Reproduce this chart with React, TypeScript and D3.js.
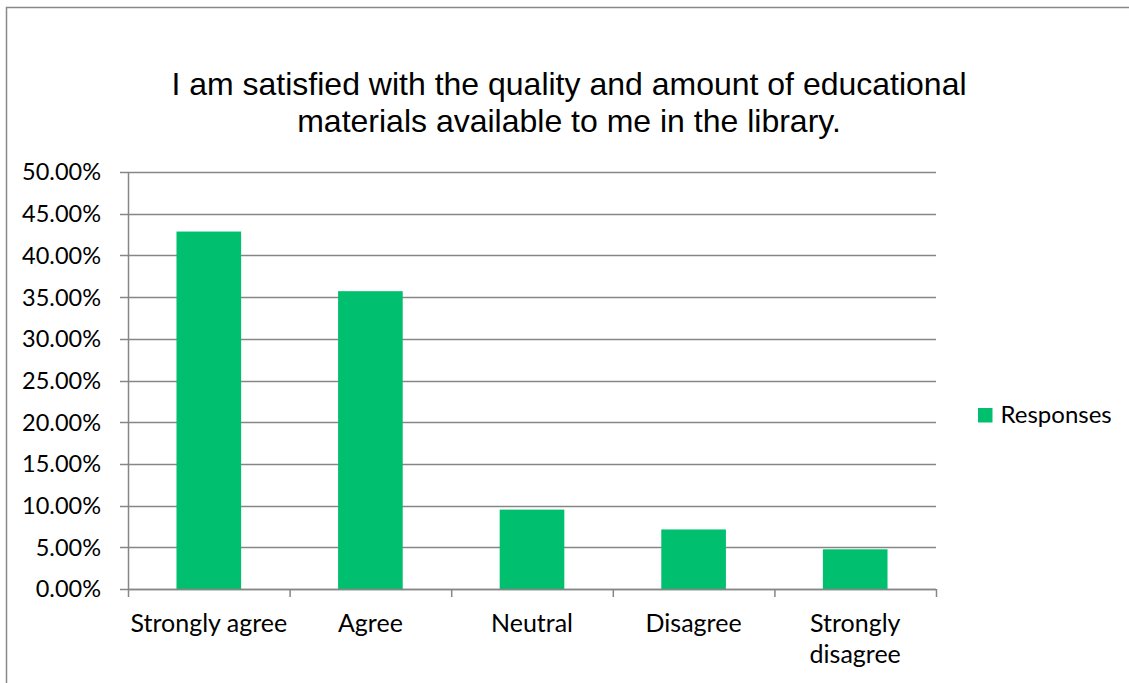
import React from "react";
import * as d3 from "d3";

const categories: string[][] = [
  ["Strongly agree"],
  ["Agree"],
  ["Neutral"],
  ["Disagree"],
  ["Strongly", "disagree"],
];
const values: number[] = [0.4286, 0.3571, 0.0952, 0.0714, 0.0476];
const yTicks: number[] = [0, 0.05, 0.1, 0.15, 0.2, 0.25, 0.3, 0.35, 0.4, 0.45, 0.5];
const titleLines: string[] = [
  "I am satisfied with the quality and amount of educational",
  "materials available to me in the library.",
];
const seriesName = "Responses";

export default function App() {
  const W = 1129;
  const H = 683;
  const left = 128;
  const right = 936;
  const top = 172;
  const bottom = 589;
  const keys = categories.map((c) => c.join(" "));
  const x = d3.scaleBand<string>().domain(keys).range([left, right]).paddingInner(0.6).paddingOuter(0.3);
  const y = d3.scaleLinear().domain([0, 0.5]).range([bottom, top]);
  const step = x.step();
  const grid = "#868686";
  const green = "#00C06F";
  const labelFont = "Lato, 'Open Sans', sans-serif";
  const fmt = (v: number) => (v * 100).toFixed(2) + "%";

  return (
    <svg width={W} height={H} style={{ position: "absolute", left: 0, top: 0, background: "#fff" }}>
      <rect x={6.5} y={7.5} width={1200} height={800} fill="#fff" stroke="#898989" strokeWidth={1.5} />
      {titleLines.map((t, i) => (
        <text key={i} x={569} y={95 + i * 36.5} textAnchor="middle" fontFamily="'Liberation Sans', Arial, sans-serif" fontSize={32} fill="#000">
          {t}
        </text>
      ))}
      {yTicks.map((t) => (
        <g key={t}>
          <line x1={120} x2={right} y1={Math.round(y(t)) + 0.5} y2={Math.round(y(t)) + 0.5} stroke={grid} strokeWidth={1.3} />
          <text x={101} y={y(t)} dy="0.36em" textAnchor="end" fontFamily={labelFont} fontSize={23.5} fill="#000">
            {fmt(t)}
          </text>
        </g>
      ))}
      <line x1={left + 0.5} x2={left + 0.5} y1={top} y2={bottom} stroke={grid} strokeWidth={1.5} />
      {keys.map((k, i) => (
        <rect key={k} x={x(k)} y={y(values[i])} width={x.bandwidth()} height={bottom - y(values[i])} fill={green} />
      ))}
      <line x1={left} x2={right} y1={bottom + 0.5} y2={bottom + 0.5} stroke={grid} strokeWidth={1.5} />
      {d3.range(keys.length + 1).map((i) => (
        <line key={i} x1={left + i * step + 0.5} x2={left + i * step + 0.5} y1={bottom} y2={bottom + 8} stroke={grid} strokeWidth={1.5} />
      ))}
      {categories.map((lines, i) => (
        <text key={i} textAnchor="middle" fontFamily={labelFont} fontSize={25} fill="#000">
          {lines.map((l, j) => (
            <tspan key={j} x={(x(keys[i]) as number) + x.bandwidth() / 2} y={632 + j * 31}>
              {l}
            </tspan>
          ))}
        </text>
      ))}
      <rect x={978} y={408} width={14.5} height={14.5} fill={green} />
      <text x={1000.5} y={423} fontFamily={labelFont} fontSize={24} fill="#000">
        {seriesName}
      </text>
    </svg>
  );
}
